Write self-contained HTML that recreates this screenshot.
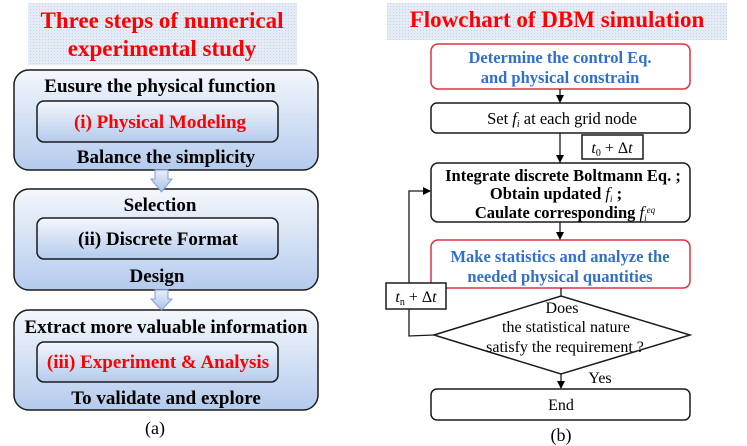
<!DOCTYPE html>
<html><head><meta charset="utf-8"><style>
html,body{margin:0;padding:0;background:#fff}
svg{display:block}
text{font-family:"Liberation Serif",serif}
.b{font-weight:bold}
</style></head><body>
<svg width="747" height="446" viewBox="0 0 747 446" xmlns="http://www.w3.org/2000/svg">
<defs>
<linearGradient id="g" x1="0" y1="0" x2="0" y2="1">
<stop offset="0" stop-color="#f4f7fc"/><stop offset="1" stop-color="#b4cbed"/></linearGradient>
<linearGradient id="ga" x1="0" y1="0" x2="0" y2="1">
<stop offset="0" stop-color="#e8eff9"/><stop offset="1" stop-color="#a9c3ea"/></linearGradient>
<pattern id="dots" width="3" height="3" patternUnits="userSpaceOnUse">
<rect width="3" height="3" fill="#e4ebf5"/><rect width="1" height="1" fill="#c5d3e8"/></pattern>
<marker id="ar" markerWidth="8" markerHeight="8" refX="7" refY="4" orient="auto" markerUnits="userSpaceOnUse">
<path d="M0,0 L8,4 L0,8 z" fill="#000"/></marker>
</defs>
<rect x="28" y="3" width="269" height="62" fill="url(#dots)"/>
<text x="162" y="28" text-anchor="middle" font-size="23" class="b" fill="#f00">Three steps of numerical</text>
<text x="162" y="56" text-anchor="middle" font-size="23" class="b" fill="#f00">experimental study</text>

<g stroke="#1a1a1a" stroke-width="1.5">
<rect x="14" y="70" width="304" height="100" rx="15" fill="url(#g)"/>
<rect x="37" y="101" width="241" height="41" rx="7" fill="url(#g)"/>
<rect x="14" y="189" width="304" height="101" rx="15" fill="url(#g)"/>
<rect x="37" y="218" width="241" height="41" rx="7" fill="url(#g)"/>
<rect x="14" y="310" width="304" height="100" rx="15" fill="url(#g)"/>
<rect x="37" y="342" width="241" height="40" rx="7" fill="url(#g)"/>
</g>
<g fill="url(#ga)" stroke="#7f9fcf" stroke-width="1">
<path d="M155,170 h13 v9 h4 l-10.5,13 l-10.5,-13 h4 z"/>
<path d="M155,290 h13 v9 h4 l-10.5,11 l-10.5,-11 h4 z"/>
</g>
<g font-size="19" class="b" text-anchor="middle">
<text x="160" y="92">Eusure the physical function</text>
<text x="160" y="128" fill="#f00">(i) Physical Modeling</text>
<text x="166" y="163">Balance the simplicity</text>
<text x="160" y="211">Selection</text>
<text x="158" y="245">(ii) Discrete Format</text>
<text x="157" y="282">Design</text>
<text x="166" y="333">Extract more valuable information</text>
<text x="158" y="368" fill="#f00">(iii) Experiment &amp; Analysis</text>
<text x="166" y="404">To validate and explore</text>
</g>
<text x="155" y="434" font-size="18" text-anchor="middle">(a)</text>

<rect x="387" y="3" width="340" height="37" fill="url(#dots)"/>
<text x="557" y="27" text-anchor="middle" font-size="23" class="b" fill="#f00">Flowchart of DBM simulation</text>

<g stroke-width="1.5" fill="#fff">
<rect x="431" y="44" width="259" height="45" rx="7" stroke="#e03040"/>
<rect x="431" y="103" width="259" height="30" rx="6" stroke="#1a1a1a"/>
<rect x="582" y="135" width="61" height="24" stroke="#1a1a1a"/>
<rect x="431" y="163" width="259" height="59" rx="7" stroke="#1a1a1a"/>
<rect x="431" y="240" width="259" height="48" rx="7" stroke="#e03040"/>
<path d="M434,335 L561,296 L690,335 L561,374 z" stroke="#1a1a1a"/>
<rect x="431" y="389" width="259" height="31" rx="6" stroke="#1a1a1a"/>
</g>
<g stroke="#1a1a1a" stroke-width="1.3" fill="none">
<line x1="560" y1="89" x2="560" y2="102" marker-end="url(#ar)"/>
<line x1="560" y1="133" x2="560" y2="162" marker-end="url(#ar)"/>
<line x1="560" y1="222" x2="560" y2="239" marker-end="url(#ar)"/>
<line x1="561" y1="288" x2="561" y2="296"/>
<line x1="561" y1="374" x2="561" y2="388" marker-end="url(#ar)"/>
<path d="M434,335 L409,336 L409,191 L430,191" marker-end="url(#ar)"/>
</g>
<rect x="386" y="283" width="60" height="26" fill="#fff" stroke="#1a1a1a" stroke-width="1.5"/>

<g font-size="16.5" class="b" text-anchor="middle" fill="#2f6fd0">
<text x="560" y="63">Determine the control Eq.</text>
<text x="560" y="83">and physical constrain</text>
<text x="560" y="262">Make statistics and analyze the</text>
<text x="560" y="282">needed physical quantities</text>
</g>
<text x="562" y="124" font-size="16.5" text-anchor="middle">Set <tspan font-style="italic">f<tspan font-size="10" dy="3">i</tspan></tspan><tspan dy="-3"> at each grid node</tspan></text>
<text x="612" y="153" font-size="16" text-anchor="middle"><tspan font-style="italic">t</tspan><tspan font-size="10" dy="3">0</tspan><tspan dy="-3"> + Δ</tspan><tspan font-style="italic">t</tspan></text>
<text x="416" y="302" font-size="16" text-anchor="middle"><tspan font-style="italic">t</tspan><tspan font-size="10" dy="3">n</tspan><tspan dy="-3"> + Δ</tspan><tspan font-style="italic">t</tspan></text>
<g font-size="16.5" class="b" text-anchor="middle">
<text x="563" y="181">Integrate discrete Boltmann Eq. ;</text>
<text x="556" y="199">Obtain updated <tspan font-style="italic" font-weight="normal">f<tspan font-size="9" dy="3">i</tspan></tspan><tspan dy="-3"> ;</tspan></text>
<text x="565" y="218">Caulate corresponding <tspan font-style="italic" font-weight="normal">f<tspan font-size="9" dy="3">i</tspan><tspan font-size="9" dy="-8">eq</tspan></tspan></text>
</g>
<g font-size="16" text-anchor="middle">
<text x="562" y="313">Does</text>
<text x="566" y="332">the statistical nature</text>
<text x="565" y="352">satisfy the requirement ?</text>
<text x="600" y="383">Yes</text>
<text x="561" y="410">End</text>
</g>
<text x="561" y="441" font-size="18" text-anchor="middle">(b)</text>
</svg>
</body></html>
